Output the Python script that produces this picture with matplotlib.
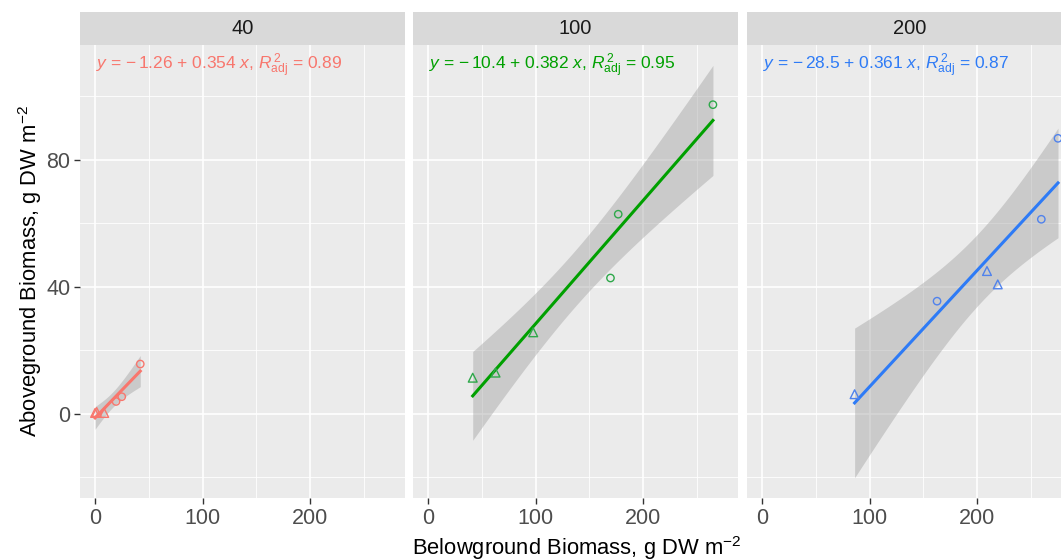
import matplotlib
matplotlib.use("Agg")
import matplotlib.pyplot as plt
import numpy as np

plt.rcParams["font.family"] = ["Liberation Sans", "DejaVu Sans"]
plt.rcParams["mathtext.fontset"] = "custom"
plt.rcParams["mathtext.rm"] = "Liberation Sans"
plt.rcParams["mathtext.it"] = "Liberation Sans:italic"
plt.rcParams["mathtext.bf"] = "Liberation Sans:bold"

# facets
panels = ["40", "100", "200"]

# belowground (x) / aboveground (y) values, triangles and circles per facet
tri_x = [[0, 1.5, 8.5], [41.5, 62.7, 97.7], [86, 209, 219]]
tri_y = [[0.3, 0.6, 0.3], [11.4, 13.0, 25.7], [6.2, 45.0, 40.8]]
circ_x = [[19.5, 24.8, 42.0], [169.5, 176.7, 264.7], [162.6, 259.5, 275]]
circ_y = [[3.9, 5.4, 15.7], [42.8, 62.9, 97.4], [35.5, 61.3, 86.8]]

eq_labels = [
    r"$\it{y}$ = $-\,$1.26 + 0.354 $\it{x}$, $\it{R}^{\,2}_{\rm adj}$ = 0.89",
    r"$\it{y}$ = $-\,$10.4 + 0.382 $\it{x}$, $\it{R}^{\,2}_{\rm adj}$ = 0.95",
    r"$\it{y}$ = $-\,$28.5 + 0.361 $\it{x}$, $\it{R}^{\,2}_{\rm adj}$ = 0.87",
]

line_cols = ["#F8766D", "#00A000", "#2E7BF6"]
point_cols = ["#F8766D", "#2EA84A", "#5082EC"]
# t quantile (0.975) by residual df
t975 = {3: 3.182, 4: 2.776, 5: 2.571}

W, H = 1061, 560
fig = plt.figure(figsize=(W / 100, H / 100), dpi=100)

lefts = [80, 413, 747]
pw = 325
top, bottom = 45, 498
strip_top = 12

for i, name in enumerate(panels):
	l = lefts[i]
	ax = fig.add_axes([l / W, (H - bottom) / H, pw / W, (bottom - top) / H])
	ax.set_facecolor("#EBEBEB")
	for s in ax.spines.values():
		s.set_visible(False)
	ax.set_xlim(-14, 288)
	ax.set_ylim(-26.5, 116.2)
	ax.set_xticks([0, 100, 200])
	ax.set_yticks([0, 40, 80])
	ax.set_xticks([50, 150, 250], minor=True)
	ax.set_yticks([-20, 20, 60, 100], minor=True)
	ax.grid(which="major", color="white", linewidth=1.2)
	ax.grid(which="minor", color="white", linewidth=0.6)
	ax.set_axisbelow(True)
	ax.tick_params(which="major", length=4.5, width=1, color="#333333",
	               labelcolor="#4D4D4D", labelsize=15.5, pad=2.5)
	ax.tick_params(which="minor", length=0)
	if i > 0:
		ax.tick_params(axis="y", which="major", length=0, labelleft=False)

	x = np.array(tri_x[i] + circ_x[i])
	y = np.array(tri_y[i] + circ_y[i])
	n = len(x)
	b, a = np.polyfit(x, y, 1)
	res = y - (a + b * x)
	s = np.sqrt(np.sum(res ** 2) / (n - 2))
	xm = x.mean()
	sxx = np.sum((x - xm) ** 2)
	xs = np.linspace(x.min(), x.max(), 80)
	fit = a + b * xs
	se = s * np.sqrt(1 / n + (xs - xm) ** 2 / sxx)
	ci = t975[n - 2] * se

	ax.fill_between(xs, fit - ci, fit + ci, color="#999999", alpha=0.4, linewidth=0, zorder=2)
	ax.plot(xs, fit, color=line_cols[i], linewidth=2.2, zorder=3)
	ax.scatter(tri_x[i], tri_y[i], marker="^", s=40, facecolors="none",
	           edgecolors=point_cols[i], linewidths=1.0, zorder=4)
	ax.scatter(circ_x[i], circ_y[i], marker="o", s=28, facecolors="none",
	           edgecolors=point_cols[i], linewidths=1.0, zorder=4)

	ax.text(0.05, 0.985, eq_labels[i], transform=ax.transAxes, ha="left", va="top",
	        color=line_cols[i], fontsize=12.5)

	# facet strip
	sax = fig.add_axes([l / W, (H - top) / H, pw / W, (top - strip_top) / H])
	sax.set_facecolor("#D9D9D9")
	sax.set_xticks([])
	sax.set_yticks([])
	for sp in sax.spines.values():
		sp.set_visible(False)
	sax.text(0.5, 0.5, name, transform=sax.transAxes, ha="center", va="center",
	         fontsize=14.5, color="#1A1A1A")

fig.text(577 / W, 1 - 548 / H, r"Belowground Biomass, g DW m$^{-2}$", ha="center",
         va="center", fontsize=15.8, color="black")
fig.text(30 / W, 1 - 271 / H, r"Aboveground Biomass, g DW m$^{-2}$", ha="center",
         va="center", rotation=90, fontsize=15.8, color="black")

fig.savefig("out.png", dpi=100, facecolor="white")
